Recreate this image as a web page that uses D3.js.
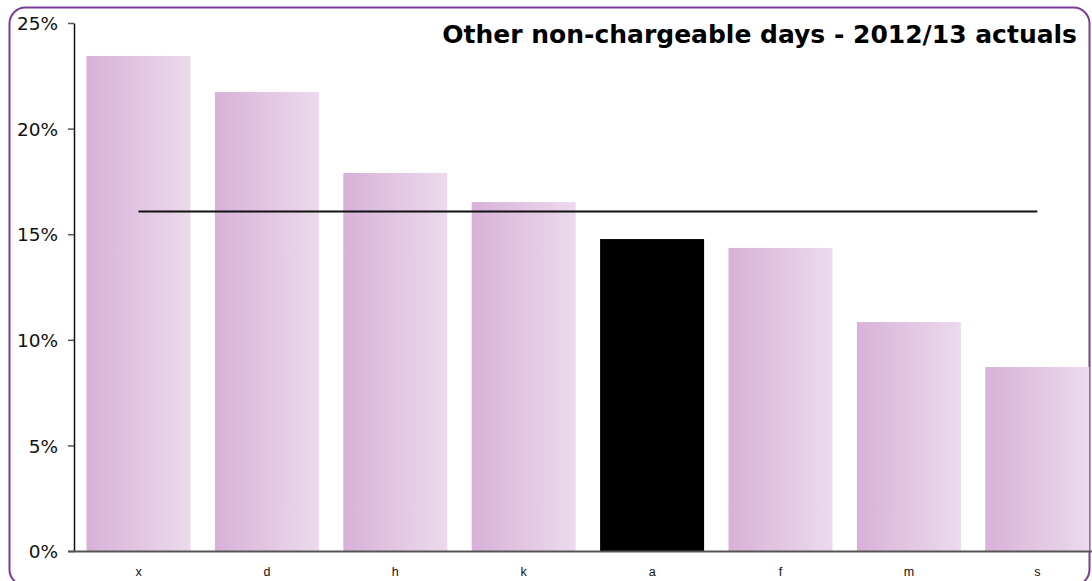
<!DOCTYPE html>
<html><head><meta charset="utf-8">
<script src="https://cdn.jsdelivr.net/npm/d3@7"></script>
<style>html,body{margin:0;padding:0;background:#fff;overflow:hidden}</style>
</head><body>
<svg id="c" width="1092" height="581"></svg>
<script>
const categories = ["x","d","h","k","a","f","m","s"];
const values = [23.44, 21.73, 17.90, 16.52, 14.77, 14.35, 10.84, 8.71];
const average = [16.07, 16.07, 16.07, 16.07, 16.07, 16.07, 16.07, 16.07];
const highlight = "a";
const yTicks = [0, 5, 10, 15, 20, 25];
const title = "Other non-chargeable days - 2012/13 actuals";

const svg = d3.select("#c");
const defs = svg.append("defs");
const g = defs.append("linearGradient").attr("id","bg").attr("x1","0").attr("x2","1").attr("y1","0").attr("y2","0");
g.append("stop").attr("offset","0").attr("stop-color","#d8b1d8");
g.append("stop").attr("offset","1").attr("stop-color","#ecdaec");

const x = d3.scaleBand().domain(categories).range([74.3, 1101.5]).paddingInner(0.19).paddingOuter(0.095);
const y = d3.scaleLinear().domain([0,25]).range([551,23]);

// frame
svg.append("rect").attr("x",9.5).attr("y",7.5).attr("width",1080).attr("height",578)
  .attr("rx",16).attr("fill","none").attr("stroke","#7a3d9a").attr("stroke-width",2);

// bars
svg.append("g").selectAll("rect").data(categories).join("rect")
  .attr("x", d => x(d)).attr("width", x.bandwidth())
  .attr("y", (d,i) => y(values[i])).attr("height", (d,i) => y(0) - y(values[i]))
  .attr("fill", d => d === highlight ? "#000" : "url(#bg)");

// y axis
const ya = svg.append("g").attr("transform","translate(74,0)")
  .call(d3.axisLeft(y).tickValues(yTicks).tickFormat(d => d + "%").tickSize(6).tickSizeOuter(0));
ya.select(".domain").attr("stroke","#111").attr("stroke-width",1.5);
ya.selectAll(".tick line").attr("stroke","#555").attr("stroke-width",1.5);
ya.selectAll(".tick text").attr("font-family","DejaVu Sans, Verdana, sans-serif").attr("font-size",18.5)
  .attr("fill","#111").attr("x",-16).attr("dy","0.36em");

// x axis
const xa = svg.append("g").attr("transform","translate(0,551)")
  .call(d3.axisBottom(x).tickSize(0).tickSizeOuter(0));
xa.select(".domain").remove();
svg.append("line").attr("x1",68).attr("x2",1092).attr("y1",551.5).attr("y2",551.5)
  .attr("stroke","#555").attr("stroke-width",2);
xa.selectAll(".tick text").attr("font-family","Liberation Sans, Arial, sans-serif").attr("font-size",12.5)
  .attr("fill","#111").attr("y",16);

// average line
const line = d3.line().x((d,i) => x(categories[i]) + x.bandwidth()/2).y(d => y(d));
svg.append("path").datum(average).attr("d", line).attr("fill","none").attr("stroke","#111").attr("stroke-width",2);

// title
svg.append("text").attr("x",1077).attr("y",43).attr("text-anchor","end")
  .attr("font-family","DejaVu Sans, Verdana, sans-serif").attr("font-weight","bold").attr("font-size",25)
  .attr("fill","#000").text(title);
</script>
</body></html>
